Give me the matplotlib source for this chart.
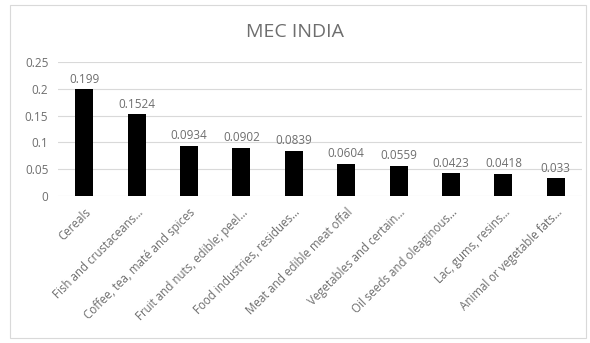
import numpy as np
import matplotlib
matplotlib.use('Agg')
import matplotlib.pyplot as plt
from matplotlib.patches import Rectangle

categories = ['Cereals', 'Fish and crustaceans…', 'Coffee, tea, maté and spices',
              'Fruit and nuts, edible; peel…', 'Food industries, residues…',
              'Meat and edible meat offal', 'Vegetables and certain…',
              'Oil seeds and oleaginous…', 'Lac, gums, resins…',
              'Animal or vegetable fats…']
values = [0.199, 0.1524, 0.0934, 0.0902, 0.0839, 0.0604, 0.0559, 0.0423, 0.0418, 0.033]
value_labels = ['0.199', '0.1524', '0.0934', '0.0902', '0.0839', '0.0604', '0.0559',
                '0.0423', '0.0418', '0.033']
yticks = [0, 0.05, 0.1, 0.15, 0.2, 0.25]
ytick_labels = ['0', '0.05', '0.1', '0.15', '0.2', '0.25']

plt.rcParams['font.family'] = ['Open Sans', 'DejaVu Sans']
grey = '#6e6e6e'

fig = plt.figure(figsize=(5.9, 3.43), dpi=100)
fig.patches.append(Rectangle((10/590, 5/343), 576/590, 333/343, transform=fig.transFigure,
                             fill=False, edgecolor='#d9d9d9', linewidth=0.8))
ax = fig.add_axes([58/590, 1 - 196/343, 524/590, 134/343])

x = np.arange(len(categories))
bars = ax.bar(x, values, width=0.34, color='black', zorder=3)
for b, lab in zip(bars, value_labels):
    ax.text(b.get_x() + b.get_width() / 2, b.get_height() + 0.007, lab,
            ha='center', va='bottom', fontsize=8.5, color=grey)

ax.set_xlim(-0.5, len(categories) - 0.5)
ax.set_ylim(0, 0.25)
ax.set_yticks(yticks)
ax.set_yticklabels(ytick_labels, fontsize=8.5, color=grey)
ax.set_xticks(x)
ax.set_xticklabels(categories, rotation=45, ha='right', rotation_mode='anchor',
                   fontsize=8.3, color=grey)
ax.tick_params(length=0, pad=7)
ax.grid(axis='y', color='#d9d9d9', linewidth=0.8, zorder=0)
for s in ax.spines.values():
    s.set_visible(False)

fig.text(0.5, 1 - 32/343, 'MEC INDIA', ha='center', va='center', fontsize=14, color=grey)

fig.savefig('out.png', dpi=100)
